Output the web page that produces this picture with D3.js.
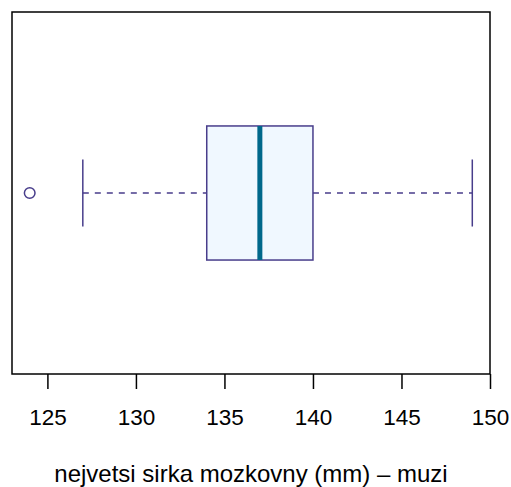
<!DOCTYPE html>
<html><head><meta charset="utf-8">
<script src="https://cdn.jsdelivr.net/npm/d3@7"></script>
<style>body{margin:0;background:#fff}svg{display:block}text{font-family:"Liberation Sans",Arial,sans-serif}</style>
</head><body>
<script>
// data
const stats = {whiskerLow:127, q1:134, median:137, q3:140, whiskerHigh:149};
const outliers = [124];
const tickValues = [125,130,135,140,145,150];
const xLabel = "nejvetsi sirka mozkovny (mm) \u2013 muzi";

const W=511,H=487;
const pL=12,pR=490,pT=12,pB=374;
const svg=d3.select("body").append("svg").attr("width",W).attr("height",H);
const x=d3.scaleLinear().domain([123,150]).range([pL,pR]);
const y=d3.scaleLinear().domain([0.46,1.54]).range([pB,pT]);
const border="#483D8B", fill="#F0F8FF", med="#00688B";

// whiskers
svg.append("line").attr("x1",x(stats.whiskerLow)).attr("x2",x(stats.q1)).attr("y1",y(1)).attr("y2",y(1))
  .attr("stroke",border).attr("stroke-width",1.3).attr("stroke-dasharray","6,6");
svg.append("line").attr("x1",x(stats.q3)).attr("x2",x(stats.whiskerHigh)).attr("y1",y(1)).attr("y2",y(1))
  .attr("stroke",border).attr("stroke-width",1.3).attr("stroke-dasharray","6,6");
[stats.whiskerLow,stats.whiskerHigh].forEach(v=>{
  svg.append("line").attr("x1",x(v)).attr("x2",x(v)).attr("y1",y(0.9)).attr("y2",y(1.1))
    .attr("stroke",border).attr("stroke-width",1.5);
});
// box
svg.append("rect").attr("x",x(stats.q1)).attr("y",y(1.2)).attr("width",x(stats.q3)-x(stats.q1))
  .attr("height",y(0.8)-y(1.2)).attr("fill",fill).attr("stroke",border).attr("stroke-width",1.5);
svg.append("line").attr("x1",x(stats.median)).attr("x2",x(stats.median)).attr("y1",y(1.2)).attr("y2",y(0.8))
  .attr("stroke",med).attr("stroke-width",5);
// outliers
svg.selectAll("circle.o").data(outliers).enter().append("circle").attr("class","o")
  .attr("cx",d=>x(d)).attr("cy",y(1)).attr("r",5.3).attr("fill","none").attr("stroke",border).attr("stroke-width",1.5);

// frame
svg.append("rect").attr("x",pL).attr("y",pT).attr("width",pR-pL).attr("height",pB-pT)
  .attr("fill","none").attr("stroke","#000").attr("stroke-width",1.5);

// axis
const ax=svg.append("g").attr("transform",`translate(0,${pB})`)
  .call(d3.axisBottom(x).tickValues(tickValues).tickSize(15).tickPadding(0).tickFormat(d3.format("d")));
ax.select(".domain").remove();
ax.selectAll(".tick line").attr("stroke","#000").attr("stroke-width",1.5);
ax.selectAll(".tick text").attr("dy",null).attr("y",51).attr("font-size",22.5).attr("fill","#000")
  .style("font-family",'"Liberation Sans",Arial,sans-serif');

svg.append("text").attr("x",(pL+pR)/2).attr("y",482).attr("text-anchor","middle")
  .attr("font-size",24).attr("fill","#000").text(xLabel);
</script>
</body></html>
